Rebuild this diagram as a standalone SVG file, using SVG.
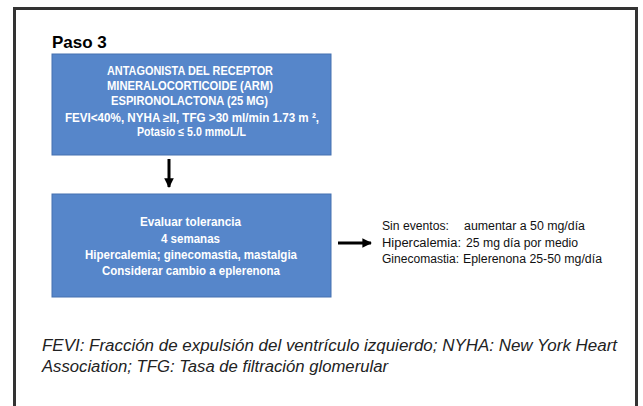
<svg xmlns="http://www.w3.org/2000/svg" width="643" height="406" viewBox="0 0 643 406">
<style>
.box{fill:#5686ca;stroke:#4470b0;stroke-width:1}
.bt{font-family:"Liberation Sans",Arial,sans-serif;font-weight:bold;font-size:12px;fill:#fff;text-anchor:start}
.rt{font-family:"Liberation Sans",Arial,sans-serif;font-size:12px;fill:#111}
.fn{font-family:"Liberation Sans",Arial,sans-serif;font-style:italic;font-size:16px;fill:#222}
.conn{stroke:#000;stroke-width:3;fill:none}
</style>
<defs>
<marker id="ah" viewBox="0 0 10 10" refX="9" refY="5" markerWidth="3.2" markerHeight="3.2" orient="auto" markerUnits="strokeWidth">
<path d="M0,0 L10,5 L0,10 z" fill="#000"/>
</marker>
</defs>
<rect width="643" height="406" fill="#fff"/>
<rect x="14.5" y="8.5" width="622" height="430" fill="none" stroke="#333" stroke-width="3"/>
<text x="52" y="48" font-family="Liberation Sans,Arial,sans-serif" font-weight="bold" font-size="17" fill="#000">Paso 3</text>
<g id="node-arm">
<rect class="box" x="52" y="54" width="279" height="101"/>
<text class="bt" x="107" y="75" textLength="166" lengthAdjust="spacingAndGlyphs">ANTAGONISTA DEL RECEPTOR</text>
<text class="bt" x="107" y="90" textLength="166" lengthAdjust="spacingAndGlyphs">MINERALOCORTICOIDE (ARM)</text>
<text class="bt" x="111" y="105" textLength="157" lengthAdjust="spacingAndGlyphs">ESPIRONOLACTONA (25 MG)</text>
<text class="bt" x="65" y="122" textLength="254" lengthAdjust="spacingAndGlyphs">FEVI&lt;40%, NYHA ≥II, TFG &gt;30 ml/min 1.73 m ²,</text>
<text class="bt" x="137" y="136" textLength="109" lengthAdjust="spacingAndGlyphs">Potasio ≤ 5.0 mmoL/L</text>
</g>
<g id="node-evaluar">
<rect class="box" x="52" y="194" width="279" height="103"/>
<text class="bt" x="140" y="226" textLength="101" lengthAdjust="spacingAndGlyphs">Evaluar tolerancia</text>
<text class="bt" x="161" y="243" textLength="59" lengthAdjust="spacingAndGlyphs">4 semanas</text>
<text class="bt" x="85" y="259" textLength="212" lengthAdjust="spacingAndGlyphs">Hipercalemia; ginecomastia, mastalgia</text>
<text class="bt" x="102" y="275" textLength="178" lengthAdjust="spacingAndGlyphs">Considerar cambio a eplerenona</text>
</g>
<g id="node-ajuste">
<text class="rt" x="382" y="230" textLength="67" lengthAdjust="spacingAndGlyphs">Sin eventos:</text>
<text class="rt" x="464" y="230" textLength="121" lengthAdjust="spacingAndGlyphs">aumentar a 50 mg/día</text>
<text class="rt" x="382" y="247" textLength="79" lengthAdjust="spacingAndGlyphs">Hipercalemia:</text>
<text class="rt" x="466" y="247" textLength="112" lengthAdjust="spacingAndGlyphs">25 mg día por medio</text>
<text class="rt" x="382" y="263" textLength="77" lengthAdjust="spacingAndGlyphs">Ginecomastia:</text>
<text class="rt" x="463" y="263" textLength="139" lengthAdjust="spacingAndGlyphs">Eplerenona 25-50 mg/día</text>
</g>
<g id="connectors">
<line class="conn" x1="169" y1="159" x2="169" y2="187" marker-end="url(#ah)"/>
<line class="conn" x1="338" y1="243" x2="371" y2="243" marker-end="url(#ah)"/>
</g>
<g id="footnote">
<text class="fn" x="42" y="351" textLength="575" lengthAdjust="spacingAndGlyphs">FEVI: Fracción de expulsión del ventrículo izquierdo; NYHA: New York Heart</text>
<text class="fn" x="42" y="372" textLength="346" lengthAdjust="spacingAndGlyphs">Association; TFG: Tasa de filtración glomerular</text>
</g>
</svg>
